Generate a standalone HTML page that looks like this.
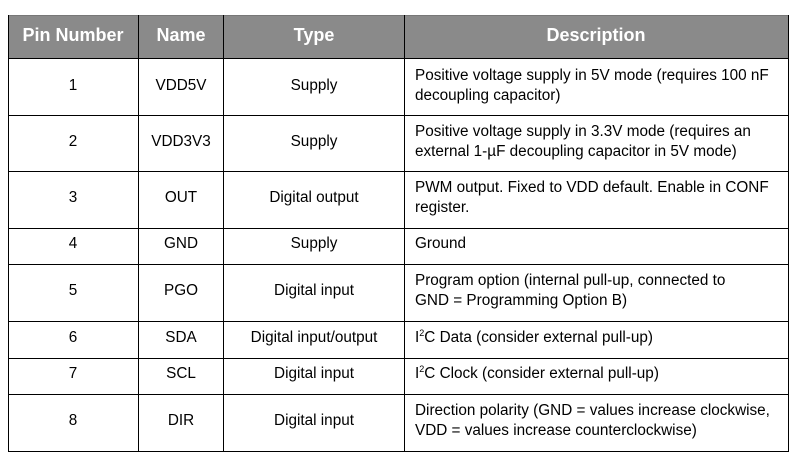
<!DOCTYPE html>
<html><head><meta charset="utf-8"><style>
body{margin:0;width:805px;height:462px;background:#fff;position:relative;overflow:hidden;font-family:"Liberation Sans",Arial,sans-serif;}
.h{position:absolute;top:15px;left:8px;width:781px;height:43px;background:#8a8a8a;}
.hl{position:absolute;height:1px;background:#000;left:8px;width:781px;}
.vl{position:absolute;width:1px;background:#000;top:15px;height:437px;}
.t{position:absolute;white-space:nowrap;font-size:15.3px;color:#000;line-height:20px;}
.c{transform:translateX(-50%);text-align:center;}
.hd{position:absolute;white-space:nowrap;font-size:18px;font-weight:bold;color:#fff;top:25px;transform:translateX(-50%);}
</style></head><body>
<div class="h"></div>
<div class="hl" style="top:15px;background:#777"></div>
<div class="hl" style="top:58px"></div>
<div class="hl" style="top:115px"></div>
<div class="hl" style="top:171px"></div>
<div class="hl" style="top:228px"></div>
<div class="hl" style="top:264px"></div>
<div class="hl" style="top:321px"></div>
<div class="hl" style="top:358px"></div>
<div class="hl" style="top:394px"></div>
<div class="hl" style="top:451px"></div>
<div class="vl" style="left:8px"></div>
<div class="vl" style="left:138px"></div>
<div class="vl" style="left:223px"></div>
<div class="vl" style="left:404px"></div>
<div class="vl" style="left:788px"></div>
<div class="hd" style="left:73px">Pin Number</div>
<div class="hd" style="left:181px">Name</div>
<div class="hd" style="left:314px">Type</div>
<div class="hd" style="left:596px">Description</div>

<div class="t c" style="left:73px;top:76px">1</div>
<div class="t c" style="left:181px;top:76px">VDD5V</div>
<div class="t c" style="left:314px;top:76px">Supply</div>
<div class="t" style="left:415px;top:66px">Positive voltage supply in 5V mode (requires 100 nF<br>decoupling capacitor)</div>

<div class="t c" style="left:73px;top:132px">2</div>
<div class="t c" style="left:181px;top:132px">VDD3V3</div>
<div class="t c" style="left:314px;top:132px">Supply</div>
<div class="t" style="left:415px;top:122px">Positive voltage supply in 3.3V mode (requires an<br>external 1-µF decoupling capacitor in 5V mode)</div>

<div class="t c" style="left:73px;top:188px">3</div>
<div class="t c" style="left:181px;top:188px">OUT</div>
<div class="t c" style="left:314px;top:188px">Digital output</div>
<div class="t" style="left:415px;top:178px">PWM output. Fixed to VDD default. Enable in CONF<br>register.</div>

<div class="t c" style="left:73px;top:234px">4</div>
<div class="t c" style="left:181px;top:234px">GND</div>
<div class="t c" style="left:314px;top:234px">Supply</div>
<div class="t" style="left:415px;top:234px">Ground</div>

<div class="t c" style="left:73px;top:281px">5</div>
<div class="t c" style="left:181px;top:281px">PGO</div>
<div class="t c" style="left:314px;top:281px">Digital input</div>
<div class="t" style="left:415px;top:271px">Program option (internal pull-up, connected to<br>GND = Programming Option B)</div>

<div class="t c" style="left:73px;top:328px">6</div>
<div class="t c" style="left:181px;top:328px">SDA</div>
<div class="t c" style="left:314px;top:328px">Digital input/output</div>
<div class="t" style="left:415px;top:328px">I<sup style="font-size:9px;line-height:0">2</sup>C Data (consider external pull-up)</div>

<div class="t c" style="left:73px;top:364px">7</div>
<div class="t c" style="left:181px;top:364px">SCL</div>
<div class="t c" style="left:314px;top:364px">Digital input</div>
<div class="t" style="left:415px;top:364px">I<sup style="font-size:9px;line-height:0">2</sup>C Clock (consider external pull-up)</div>

<div class="t c" style="left:73px;top:411px">8</div>
<div class="t c" style="left:181px;top:411px">DIR</div>
<div class="t c" style="left:314px;top:411px">Digital input</div>
<div class="t" style="left:415px;top:401px">Direction polarity (GND = values increase clockwise,<br>VDD = values increase counterclockwise)</div>
</body></html>
